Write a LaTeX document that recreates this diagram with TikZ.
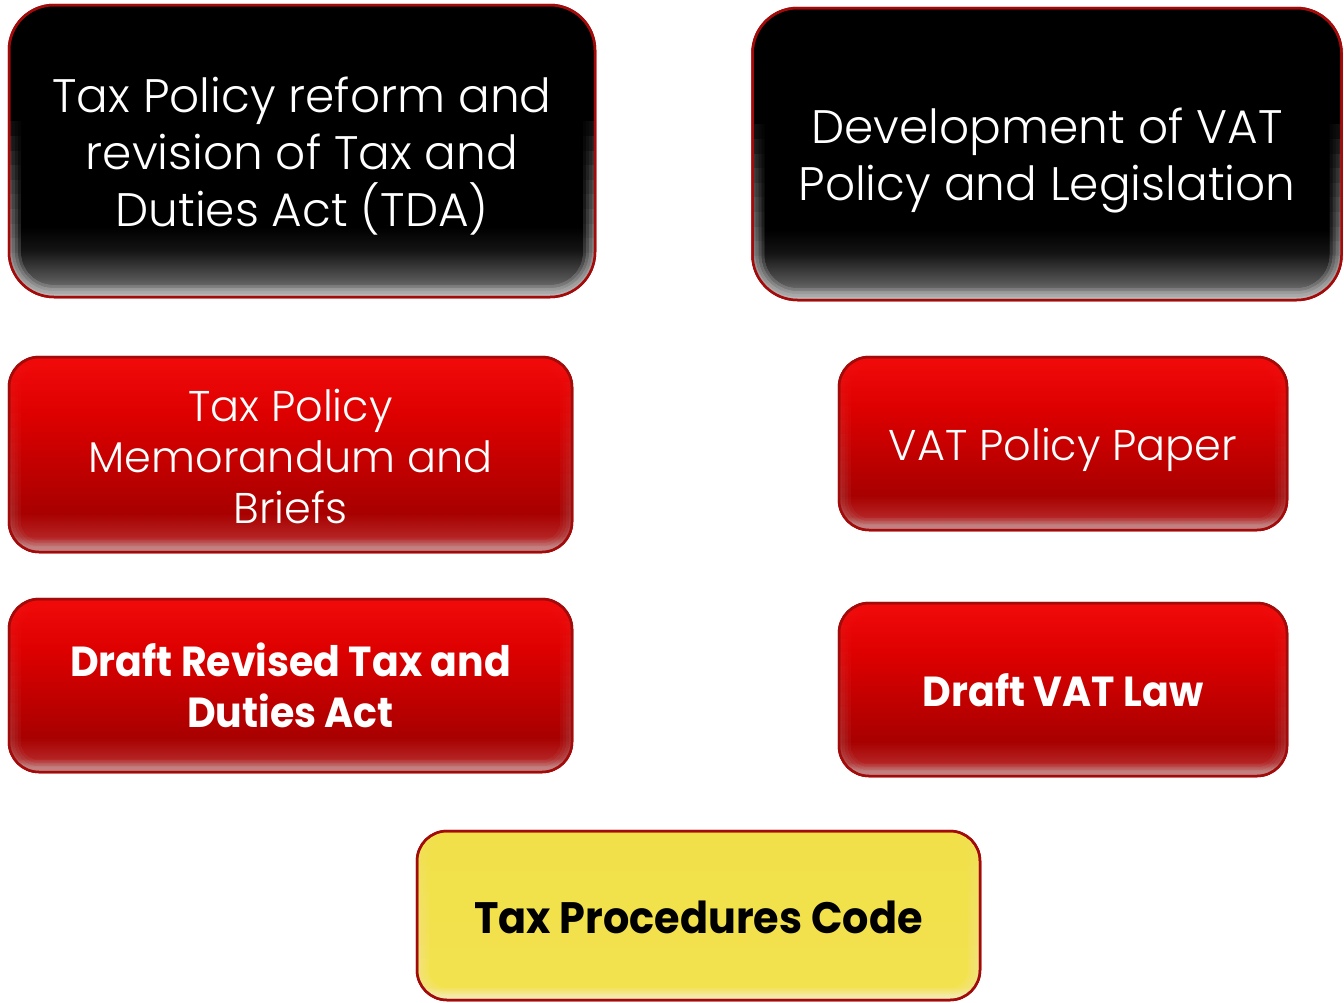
\documentclass[tikz,border=0pt]{standalone}
\usepackage{fontspec}
\setmainfont{Poppins}[UprightFont=*-Light,BoldFont=*-Bold,BoldFeatures={FakeStretch=0.94}]
\usetikzlibrary{calc}
\definecolor{borderred}{HTML}{A30A0A}
\definecolor{bkA}{HTML}{8A8A8A}
\definecolor{bkB}{HTML}{555555}
\definecolor{bkC}{HTML}{141414}
\definecolor{rdA}{HTML}{C98585}
\definecolor{rdB}{HTML}{B42222}
\definecolor{rdC}{HTML}{A80000}
\definecolor{rdD}{HTML}{DD0000}
\definecolor{rdE}{HTML}{F20A0A}
\definecolor{ylA}{HTML}{F6EEA6}
\definecolor{ylB}{HTML}{F2E24E}
\definecolor{ylC}{HTML}{F1E048}
\pgfdeclareverticalshading{blackshade}{100bp}{color(0bp)=(bkA); color(25bp)=(bkA); color(28bp)=(bkB); color(33bp)=(bkC); color(37bp)=(black); color(100bp)=(black)}
\pgfdeclareverticalshading{redshade}{100bp}{color(0bp)=(rdA); color(25bp)=(rdA); color(29bp)=(rdB); color(35bp)=(rdC); color(60bp)=(rdD); color(75bp)=(rdE); color(100bp)=(rdE)}
\pgfdeclareverticalshading{yellowshade}{100bp}{color(0bp)=(ylA); color(25bp)=(ylA); color(29bp)=(ylB); color(75bp)=(ylC); color(100bp)=(ylC)}
\tikzset{
  basebox/.style={draw=borderred, line width=2.5pt, inner sep=0pt, outer sep=0pt, shade},
  blackbox/.style={basebox, rounded corners=45pt, shading=blackshade},
  redbox/.style={basebox, rounded corners=30pt, shading=redshade},
  yellowbox/.style={basebox, rounded corners=30pt, shading=yellowshade},
  lighttext/.style={align=center, inner sep=0pt, text=white},
  bigtext/.style={lighttext, font=\fontsize{47}{57}\selectfont},
  midtext/.style={lighttext, font=\fontsize{43}{51}\selectfont},
  boldtext/.style={lighttext, font=\fontsize{42}{51}\selectfont\bfseries},
}
% inner edge glow: node, corner radius, start fraction from top, opacity
\newcommand{\edgeglow}[4]{%
  \begin{scope}
    \clip[rounded corners=#2] (#1.north west) rectangle (#1.south east);
    \foreach \k in {1,...,10}{%
      \pgfmathsetmacro{\fr}{#3+(1-#3)*(\k-1)/12}%
      \begin{scope}
        \clip ($(#1.north west)!\fr!(#1.south west)$) rectangle (#1.south east);
        \foreach \j in {1,...,4}{%
          \draw[white, opacity=#4, line width=\j*6pt, rounded corners=#2] (#1.north west) rectangle (#1.south east);
        }
      \end{scope}
    }
  \end{scope}
  \draw[borderred, line width=2.5pt, rounded corners=#2] (#1.north west) rectangle (#1.south east);
}
\begin{document}
\begin{tikzpicture}[x=1pt,y=-1pt]
\useasboundingbox (0,0) rectangle (1344,1002);
% boxes
\node[blackbox, minimum width=586pt, minimum height=292pt] (reform) at (302,151) {};
\node[blackbox, minimum width=589pt, minimum height=292pt] (vatdev) at (1047,154) {};
\node[redbox, minimum width=563pt, minimum height=195pt] (memo) at (290.5,454.5) {};
\node[redbox, minimum width=448pt, minimum height=173pt] (paper) at (1063,443.5) {};
\node[redbox, minimum width=563pt, minimum height=173pt] (tda) at (290.5,685.5) {};
\node[redbox, minimum width=448pt, minimum height=173pt] (vatlaw) at (1063,689.5) {};
\node[yellowbox, minimum width=563pt, minimum height=169pt] (tpc) at (698.5,915.5) {};
% glows
\edgeglow{reform}{45pt}{0.4}{0.02}
\edgeglow{vatdev}{45pt}{0.4}{0.02}
\edgeglow{memo}{30pt}{0.05}{0.009}
\edgeglow{paper}{30pt}{0.05}{0.009}
\edgeglow{tda}{30pt}{0.05}{0.009}
\edgeglow{vatlaw}{30pt}{0.05}{0.009}
\edgeglow{tpc}{30pt}{0.05}{0.01}
% texts
\node[bigtext] (reformtext) at ($(reform.center)+(0,5)$) {Tax Policy reform and\\revision of Tax and\\Duties Act (TDA)};
\node[bigtext] (vatdevtext) at ($(vatdev.center)+(0,7)$) {Development of VAT\\Policy and Legislation};
\node[midtext] (memotext) at ($(memo.center)+(0,2)$) {Tax Policy\\Memorandum and\\Briefs};
\node[midtext] (papertext) at ($(paper.center)+(0,6)$) {VAT Policy Paper};
\node[boldtext] (tdatext) at ($(tda.center)+(0,0)$) {Draft Revised Tax and\\Duties Act};
\node[boldtext] (vatlawtext) at ($(vatlaw.center)+(0,1)$) {Draft VAT Law};
\node[boldtext, text=black, font=\fontsize{44}{51}\selectfont\bfseries] (tpctext) at ($(tpc.center)+(0,2)$) {Tax Procedures Code};
\end{tikzpicture}
\end{document}
